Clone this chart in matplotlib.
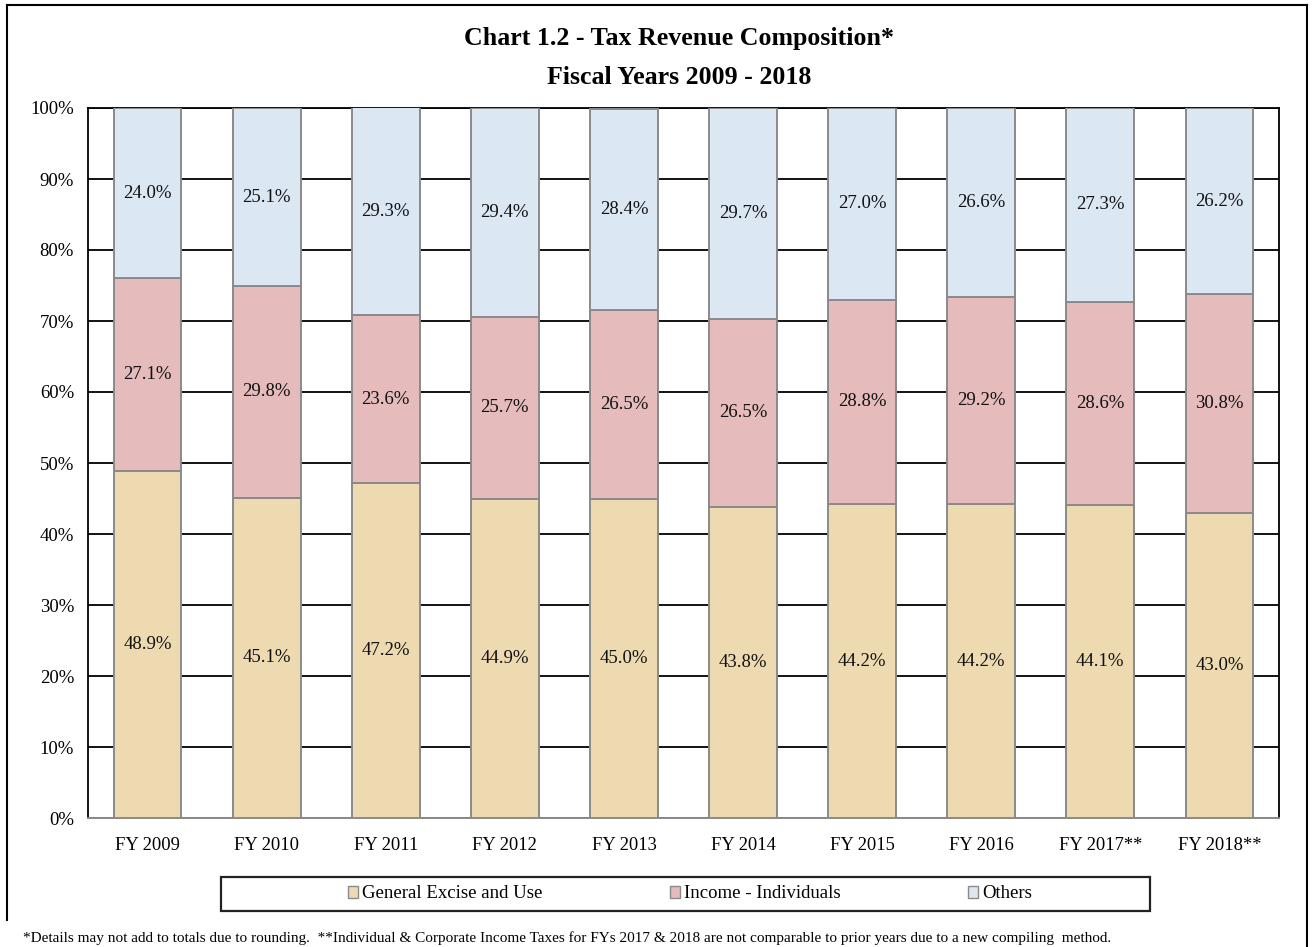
import numpy as np
import matplotlib
matplotlib.use("Agg")
import matplotlib.pyplot as plt
from matplotlib.patches import Rectangle
from matplotlib.lines import Line2D

# ── Data ────────────────────────────────────────────────
years = ["FY 2009", "FY 2010", "FY 2011", "FY 2012", "FY 2013",
         "FY 2014", "FY 2015", "FY 2016", "FY 2017**", "FY 2018**"]
general_excise = [48.9, 45.1, 47.2, 44.9, 45.0, 43.8, 44.2, 44.2, 44.1, 43.0]
income_indiv = [27.1, 29.8, 23.6, 25.7, 26.5, 26.5, 28.8, 29.2, 28.6, 30.8]
others = [24.0, 25.1, 29.3, 29.4, 28.4, 29.7, 27.0, 26.6, 27.3, 26.2]
series_names = ["General Excise and Use", "Income - Individuals", "Others"]
y_ticks = [0, 10, 20, 30, 40, 50, 60, 70, 80, 90, 100]

# ── Style ───────────────────────────────────────────────
COLORS = ["#EEDAB0", "#E5BBBC", "#DCE7F4"]
EDGE = "#8a8a8a"
SERIF = ["Liberation Serif", "DejaVu Serif"]
plt.rcParams["font.family"] = SERIF

W, H = 1312, 947
fig = plt.figure(figsize=(W / 100, H / 100), dpi=100)
ax = fig.add_axes([88 / W, 1 - 818 / H, (1279 - 88) / W, (818 - 108) / H])

x = np.arange(len(years))
ge = np.array(general_excise)
inc = np.array(income_indiv)
oth = np.array(others)
bottoms = [np.zeros(len(x)), ge, ge + inc]
values = [ge, inc, oth]

for vals, bot, color in zip(values, bottoms, COLORS):
    ax.bar(x, vals, bottom=bot, width=0.57, color=color,
           edgecolor=EDGE, linewidth=1.4, zorder=3)
    for xi, v, b in zip(x, vals, bot):
        ax.text(xi, b + v / 2, f"{v:.1f}%", ha="center", va="center",
                fontsize=13.5, color="#111111", zorder=4)

ax.set_xlim(-0.5, len(x) - 0.5)
ax.set_ylim(0, 100)
ax.set_yticks(y_ticks)
ax.set_yticklabels([f"{t}%" for t in y_ticks], fontsize=13.5)
ax.set_xticks(x)
ax.set_xticklabels(years, fontsize=13.3)
ax.tick_params(axis="both", length=0)
ax.tick_params(axis="y", pad=10)
ax.tick_params(axis="x", pad=14)
ax.yaxis.grid(True, color="black", linewidth=1.3, zorder=0)
ax.set_axisbelow(True)
for side in ["left", "right", "top"]:
    ax.spines[side].set_color("black")
    ax.spines[side].set_linewidth(1.3)
ax.spines["bottom"].set_color(EDGE)
ax.spines["bottom"].set_linewidth(1.4)

# title
fig.text(679 / W, 1 - 39 / H, "Chart 1.2 - Tax Revenue Composition*",
         ha="center", va="center", fontsize=18.6, fontweight="bold")
fig.text(679 / W, 1 - 77 / H, "Fiscal Years 2009 - 2018",
         ha="center", va="center", fontsize=18.6, fontweight="bold")

# legend (box drawn separately)
handles = [Rectangle((0, 0), 1, 1, facecolor=c, edgecolor=EDGE, linewidth=1)
           for c in COLORS]
leg = fig.legend(handles, series_names, loc="center",
                 bbox_to_anchor=(690 / W, 1 - 894 / H),
                 ncol=3, frameon=False, fontsize=13.5,
                 handlelength=0.55, handleheight=0.55, handletextpad=0.2,
                 columnspacing=6.8)
fig.add_artist(Rectangle((221 / W, 1 - 911 / H), (1150 - 221) / W, 34 / H,
                         transform=fig.transFigure, facecolor="none",
                         edgecolor="#222222", linewidth=1.6))

# footnote
fig.text(23 / W, 1 - 938 / H,
         "*Details may not add to totals due to rounding.  **Individual & Corporate Income Taxes "
         "for FYs 2017 & 2018 are not comparable to prior years due to a new compiling  method.",
         ha="left", va="center", fontsize=11.0)

# outer border
fig.add_artist(Line2D([7 / W, 1307 / W], [1 - 5 / H, 1 - 5 / H], color="black", lw=1.5))
fig.add_artist(Line2D([7 / W, 7 / W], [1 - 5 / H, 1 - 920 / H], color="black", lw=1.5))
fig.add_artist(Line2D([1307 / W, 1307 / W], [1 - 5 / H, 0], color="black", lw=1.5))

fig.savefig("out.png", dpi=100)
